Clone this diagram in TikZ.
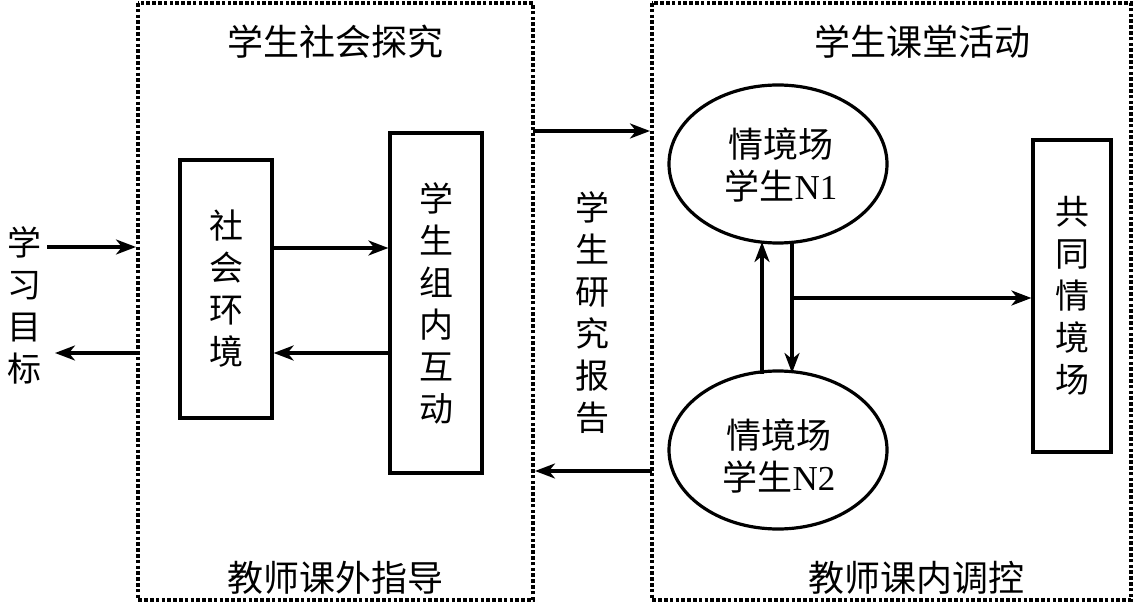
\documentclass[tikz,border=0pt]{standalone}
\usepackage{fontspec}
\setmainfont{Liberation Serif}
\newfontfamily\cjk{Noto Sans CJK SC}
\usetikzlibrary{arrows.meta,shapes.geometric}
\tikzset{
  dbox/.style={draw, line width=1.9pt, dash pattern=on 1.8pt off 1.1pt},
  sbox/.style={draw, line width=1.6pt},
  arr/.style={line width=1.6pt, -{Stealth[length=10pt,width=7.5pt,inset=3pt]}},
  vtext/.style={font=\cjk\fontsize{17}{21}\selectfont, align=center, inner sep=0pt},
  ttl/.style={font=\cjk\fontsize{18}{21}\selectfont, inner sep=0pt},
  ell/.style={draw, line width=1.6pt, ellipse, minimum width=109pt, minimum height=79pt, inner sep=0pt},
  etext/.style={align=center, inner sep=0pt, font=\fontsize{17.5}{20}\selectfont},
}
\begin{document}
\begin{tikzpicture}[x=0.5pt,y=-0.5pt]
\useasboundingbox (0,0) rectangle (1134,604);
% dashed frames
\draw[dbox] (138,3) rectangle (533,600);
\draw[dbox] (652,3) rectangle (1131,600);
% titles
\node[ttl] (t1) at (335,42) {学生社会探究};
\node[ttl] (t2) at (335,578) {教师课外指导};
\node[ttl] (t3) at (922,42) {学生课堂活动};
\node[ttl] (t4) at (916,578) {教师课内调控};
% left label
\node[vtext] (goal) at (25,305) {学\\习\\目\\标};
\coordinate (gin) at (47,247);
\coordinate (gout) at (55,353);
\coordinate (fin) at (136,247);
\coordinate (fout) at (138,353);
\draw[arr] (gin) -- (fin);
\draw[arr] (fout) -- (gout);
% boxes
\node[sbox, minimum width=46pt, minimum height=129pt, inner sep=0pt] (env) at (226,289) {};
\node[vtext] at (env.center) {社\\会\\环\\境};
\node[sbox, minimum width=46pt, minimum height=170pt, inner sep=0pt] (grp) at (436,303) {};
\node[vtext] at (grp.center) {学\\生\\组\\内\\互\\动};
\draw[arr] (env.east |- 0,248) -- (grp.west |- 0,248);
\draw[arr] (grp.west |- 0,353) -- (env.east |- 0,353);
% report
\node[vtext] (rep) at (592,313) {学\\生\\研\\究\\报\\告};
\coordinate (a1) at (533,131);
\coordinate (b1) at (650,131);
\coordinate (a2) at (652,471);
\coordinate (b2) at (535,471);
\draw[arr] (a1) -- (b1);
\draw[arr] (a2) -- (b2);
% ellipses
\node[ell] (n1) at (778,164) {};
\node[etext] at (781,165) {{\cjk 情境场}\\[1pt]{\cjk 学生}N1};
\node[ell] (n2) at (778,450) {};
\node[etext] at (779,456) {{\cjk 情境场}\\[1pt]{\cjk 学生}N2};
\coordinate (u0) at (762,374);
\coordinate (u1) at (762,242);
\draw[arr] (u0) -- (u1);
\coordinate (d0) at (792,243);
\coordinate (d1) at (792,373);
\draw[arr] (d0) -- (d1);
% common box
\node[sbox, minimum width=39pt, minimum height=156pt, inner sep=0pt] (com) at (1072,296) {};
\node[vtext] at (com.center) {共\\同\\情\\境\\场};
\coordinate (h0) at (792,298);
\draw[arr] (h0) -- (com.west |- h0);
\end{tikzpicture}
\end{document}
